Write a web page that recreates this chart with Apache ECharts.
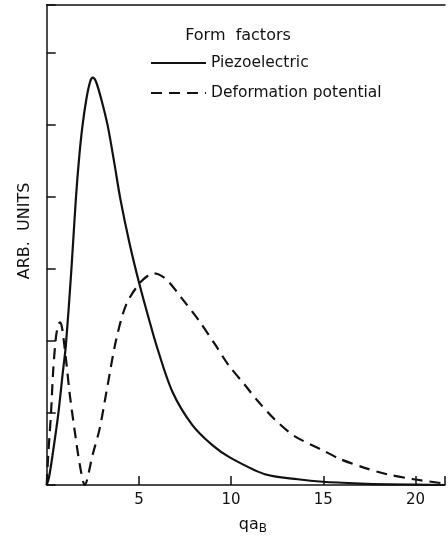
<!DOCTYPE html>
<html>
<head>
<meta charset="utf-8">
<script src="https://cdn.jsdelivr.net/npm/echarts@6/dist/echarts.min.js"></script>
<style>
html,body{margin:0;padding:0;background:#fff;}
#chart{width:448px;height:540px;}
</style>
</head>
<body>
<div id="chart"></div>
<script>
// Piezoelectric form factor (solid)
const piezoX = [0, 0.12, 0.32, 0.62, 0.88, 1.04, 1.34, 1.58, 1.76, 1.94, 2.15, 2.35, 2.5, 2.68, 2.96, 3.31, 3.65, 3.99, 4.5, 5.02, 5.55, 6.0, 6.81, 7.88, 9.0, 9.95, 11.83, 13.62, 14.96, 17.0, 18.5, 21.6];
const piezoY = [0, 0.10, 0.42, 0.97, 1.58, 1.94, 3.00, 3.97, 4.55, 4.99, 5.36, 5.60, 5.66, 5.60, 5.36, 4.99, 4.50, 3.98, 3.35, 2.80, 2.30, 1.90, 1.30, 0.84, 0.55, 0.38, 0.15, 0.08, 0.045, 0.02, 0.01, 0.0];
// Deformation potential form factor (dashed)
const defX = [0, 0.086, 0.23, 0.35, 0.5, 0.62, 0.72, 0.82, 0.93, 1.08, 1.25, 1.52, 1.79, 2.06, 2.5, 2.87, 3.23, 3.76, 4.3, 5.02, 5.55, 5.82, 6.2, 6.63, 7.34, 8.24, 9.14, 9.85, 10.75, 11.47, 12.37, 13.44, 14.87, 15.95, 17.2, 18.46, 19.9, 21.6];
const defY = [0, 0.43, 0.98, 1.58, 2.05, 2.22, 2.26, 2.20, 2.00, 1.67, 1.26, 0.75, 0.29, 0.0, 0.43, 0.78, 1.28, 2.01, 2.50, 2.80, 2.92, 2.94, 2.91, 2.82, 2.59, 2.29, 1.95, 1.67, 1.39, 1.16, 0.91, 0.68, 0.495, 0.357, 0.242, 0.149, 0.08, 0.02];
const xTickLabels = ['5', '10', '15', '20'];
const seriesNames = ['Piezoelectric', 'Deformation potential'];
const titleText = 'Form  factors';
const yName = 'ARB.  UNITS';

const zip = (xs, ys) => xs.map((x, i) => [x, ys[i]]);
const FONT = 'DejaVu Sans';
const INK = '#111';

const chart = echarts.init(document.getElementById('chart'), null, {renderer: 'canvas'});
chart.setOption({
  backgroundColor: '#fff',
  animation: false,
  title: {
    text: titleText,
    left: 233, top: 23, textAlign: 'center',
    textStyle: {fontFamily: FONT, fontSize: 16, fontWeight: 'normal', color: INK}
  },
  legend: {
    data: seriesNames,
    orient: 'vertical',
    left: 150, top: 55, padding: 0,
    itemWidth: 55, itemHeight: 14, itemGap: 14,
    itemStyle: {opacity: 0},
    textStyle: {fontFamily: FONT, fontSize: 15.5, color: INK}
  },
  grid: {left: 46.7, right: 0, top: 5, bottom: 52.5, containLabel: false},
  xAxis: [{
    type: 'value', min: 0, max: 21.6, interval: 5,
    name: 'qa{sub|B}',
    nameLocation: 'middle', nameGap: 30,
    nameTextStyle: {
      fontFamily: FONT, fontSize: 16, color: INK, padding: [0, 0, 0, 14],
      rich: {sub: {fontFamily: FONT, fontSize: 12, color: INK, verticalAlign: 'bottom', padding: [8, 0, 0, 0]}}
    },
    axisLine: {show: true, onZero: false, lineStyle: {color: INK, width: 1.5}},
    axisTick: {show: true, inside: true, length: 9, lineStyle: {color: INK, width: 1.5}},
    axisLabel: {
      margin: 8, fontFamily: FONT, fontSize: 15, color: INK,
      formatter: v => { const i = [5, 10, 15, 20].indexOf(v); return i >= 0 ? xTickLabels[i] : ''; }
    },
    splitLine: {show: false}
  }, {
    type: 'value', position: 'top', min: 0, max: 21.6,
    axisLine: {show: true, onZero: false, lineStyle: {color: INK, width: 1.5}},
    axisTick: {show: false}, axisLabel: {show: false}, splitLine: {show: false}
  }],
  yAxis: {
    type: 'value', min: 0, max: 6.67, interval: 1,
    name: yName, nameLocation: 'middle', nameRotate: 90, nameGap: 14,
    nameTextStyle: {fontFamily: FONT, fontSize: 16, color: INK, padding: [0, 0, 0, 28]},
    axisLine: {show: true, onZero: false, lineStyle: {color: INK, width: 1.5}},
    axisTick: {show: true, inside: true, length: 9, lineStyle: {color: INK, width: 1.5}},
    axisLabel: {show: false},
    splitLine: {show: false}
  },
  series: [{
    name: seriesNames[0], type: 'line', xAxisIndex: 0,
    data: zip(piezoX, piezoY),
    smooth: 0.3, symbol: 'none',
    lineStyle: {color: INK, width: 2.2, type: 'solid'},
    itemStyle: {color: INK}
  }, {
    name: seriesNames[1], type: 'line', xAxisIndex: 0,
    data: zip(defX, defY),
    smooth: 0.3, symbol: 'none',
    lineStyle: {color: INK, width: 2.2, type: [11, 7]},
    itemStyle: {color: INK}
  }]
});
</script>
</body>
</html>
